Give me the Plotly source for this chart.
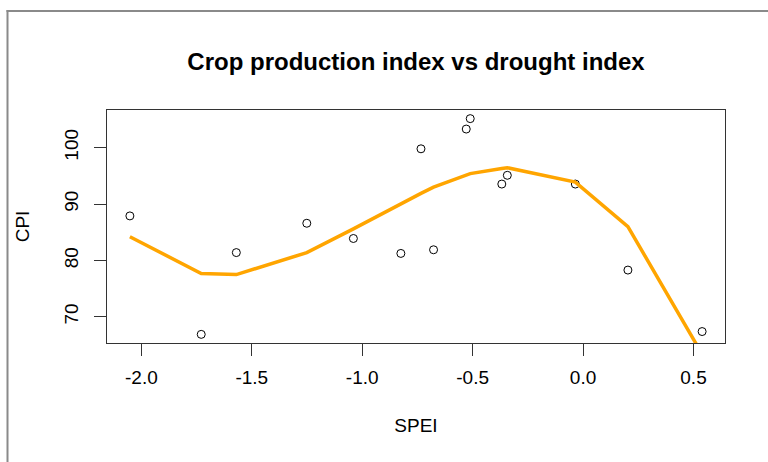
import plotly.graph_objects as go

# ---- data ----
spei = [-2.052, -1.729, -1.570, -1.251, -1.040, -0.825, -0.734, -0.677,
        -0.529, -0.511, -0.368, -0.343, -0.035, 0.203, 0.539]
cpi = [87.9, 66.9, 81.4, 86.6, 83.9, 81.25, 99.8, 81.9,
       103.3, 105.15, 93.55, 95.1, 93.55, 78.3, 67.4]
cpi_fit = [84.2, 77.7, 77.5, 81.4, 85.6, 90.1, 91.9, 93.0,
           95.15, 95.4, 96.3, 96.45, 93.9, 86.0, 63.4]

x_tickvals = [-2.0, -1.5, -1.0, -0.5, 0.0, 0.5]
x_ticktext = ["-2.0", "-1.5", "-1.0", "-0.5", "0.0", "0.5"]
y_tickvals = [70, 80, 90, 100]
y_ticktext = ["70", "80", "90", "100"]

title_text = "Crop production index vs drought index"
x_title = "SPEI"
y_title = "CPI"

# ---- layout constants ----
W, H = 768, 462
ML, MR, MT, MB = 107, 43, 110, 119
PW, PH = W - ML - MR, H - MT - MB
FONT = "Liberation Sans, Arial, sans-serif"


def r_range(v):
    lo, hi = min(v), max(v)
    s = hi - lo
    return [lo - 0.04 * s, hi + 0.04 * s]


fig = go.Figure()
fig.add_trace(go.Scatter(
    x=spei, y=cpi, mode="markers",
    marker=dict(symbol="circle-open", size=8, color="black",
                line=dict(width=1, color="black")),
    showlegend=False, hoverinfo="x+y"))
fig.add_trace(go.Scatter(
    x=spei, y=cpi_fit, mode="lines",
    line=dict(color="#FFA500", width=3.5),
    showlegend=False))


def px_x(p):
    return (p - ML) / PW


def px_y(p):
    return (H - MB - p) / PH


# outer grey frame (left and top edges visible)
fig.add_shape(type="line", xref="paper", yref="paper",
              x0=px_x(7.5), x1=px_x(7.5), y0=px_y(10), y1=px_y(480),
              line=dict(color="#8a8a8a", width=2))
fig.add_shape(type="line", xref="paper", yref="paper",
              x0=px_x(6.5), x1=px_x(800), y0=px_y(11), y1=px_y(11),
              line=dict(color="#8a8a8a", width=2))

fig.update_layout(
    width=W, height=H,
    margin=dict(l=ML, r=MR, t=MT, b=MB, pad=0),
    paper_bgcolor="white", plot_bgcolor="white",
    font=dict(family=FONT, size=19, color="black"),
    title=dict(text="<b>" + title_text + "</b>",
               font=dict(family=FONT, size=24, color="black"),
               x=(ML + PW / 2) / W, xanchor="center", xref="container",
               y=1 - 62 / H, yanchor="middle", yref="container"),
    xaxis=dict(range=r_range(spei), tickvals=x_tickvals, ticktext=x_ticktext,
               showgrid=False, zeroline=False,
               showline=True, mirror=True, linecolor="#333333", linewidth=1,
               ticks="outside", ticklen=12, tickcolor="#333333", tickwidth=1,
               ticklabelstandoff=5,
               tickfont=dict(size=19, color="black"),
               title=dict(text=x_title, standoff=31,
                          font=dict(size=19, color="black"))),
    yaxis=dict(range=r_range(cpi), tickvals=y_tickvals, ticktext=y_ticktext,
               showgrid=False, zeroline=False,
               showline=True, mirror=True, linecolor="#333333", linewidth=1,
               ticks="outside", ticklen=12, tickcolor="#333333", tickwidth=1,
               tickangle=-90, ticklabelstandoff=8,
               tickfont=dict(size=19, color="black"),
               title=dict(text=y_title, standoff=26,
                          font=dict(size=19, color="black"))),
)

fig.write_html("out.html",
               config={"displayModeBar": False},
               post_script="document.body.style.margin='0px';")
